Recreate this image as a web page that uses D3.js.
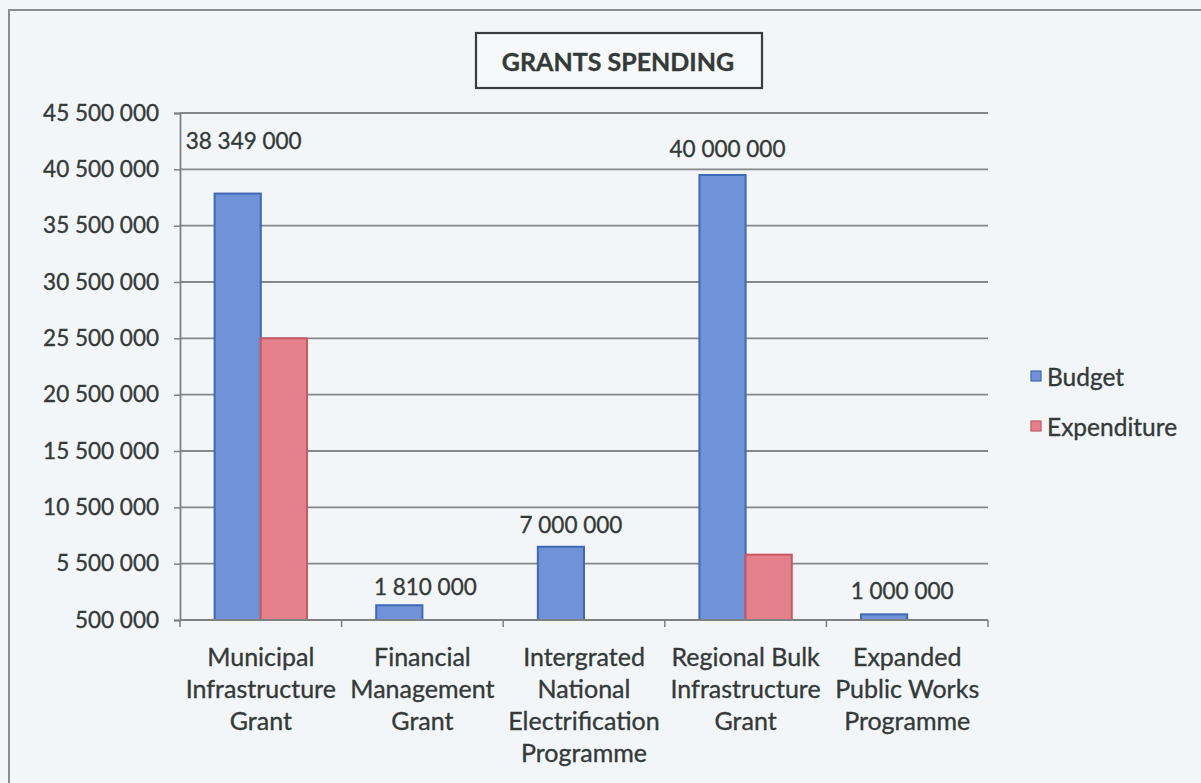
<!DOCTYPE html>
<html>
<head>
<meta charset="utf-8">
<script src="https://cdn.jsdelivr.net/npm/d3@7"></script>
<style>
  html, body { margin: 0; padding: 0; background: #f3f6f9; }
  svg { display: block; }
  text { font-family: Lato, "Open Sans", sans-serif; fill: #343a37; stroke: #343a37; stroke-width: 0.35px; }
</style>
</head>
<body>
<svg id="chart" width="1201" height="783"></svg>
<script>
// Grant names, one array of lines per category
const categories = [
  ["Municipal", "Infrastructure", "Grant"],
  ["Financial", "Management", "Grant"],
  ["Intergrated", "National", "Electrification", "Programme"],
  ["Regional Bulk", "Infrastructure", "Grant"],
  ["Expanded", "Public Works", "Programme"]
];
const budget      = [38349000, 1810000, 7000000, 40000000, 1000000];
const expenditure = [25500000, 0, 0, 6300000, 0];
const seriesNames = ["Budget", "Expenditure"];
const yTicks = [500000, 5500000, 10500000, 15500000, 20500000, 25500000,
                30500000, 35500000, 40500000, 45500000];

// Hand-placed nudges for the value labels above the budget bars
const labelNudge = [[6, -53], [26, -19], [10, -22], [5, -26], [18, -24]];

const colors = {
  Budget:      { fill: "#7093d7", stroke: "#3f68b5" },
  Expenditure: { fill: "#e4818b", stroke: "#c65964" }
};

const svg = d3.select("#chart");
const plot = { left: 180, right: 988, top: 113, bottom: 620 };

// outer frame
svg.append("path")
  .attr("d", "M9,783 V10 H1201")
  .attr("fill", "none").attr("stroke", "#8a8d8e").attr("stroke-width", 2);

const x0 = d3.scaleBand().domain(d3.range(categories.length))
  .range([plot.left, plot.right]).paddingInner(0).paddingOuter(0);
const barW = x0.bandwidth() / 3.5;
const x1 = d3.scaleBand().domain(seriesNames)
  .range([0, 2 * barW]);

const y = d3.scaleLinear().domain([500000, 45500000])
  .range([plot.bottom, plot.top]);

const fmt = v => d3.format(",")(v).replace(/,/g, " ");

// gridlines
svg.append("g").selectAll("line").data(yTicks.slice(1)).join("line")
  .attr("x1", plot.left).attr("x2", plot.right)
  .attr("y1", d => y(d)).attr("y2", d => y(d))
  .attr("stroke", "#858788").attr("stroke-width", 1.8);

// y axis
const yAxis = d3.axisLeft(y).tickValues(yTicks).tickFormat(fmt)
  .tickSize(6).tickPadding(15);
const gy = svg.append("g").attr("transform", `translate(${plot.left},0)`).call(yAxis);
gy.select(".domain").attr("stroke", "#7e8182").attr("stroke-width", 1.8);
gy.selectAll(".tick line").attr("stroke", "#7e8182").attr("stroke-width", 1.5);
gy.selectAll(".tick text").style("font-size", "22.5px").attr("fill", "#343a37")
  .style("font-family", "Lato, 'Open Sans', sans-serif");

// bars
const groups = svg.append("g").selectAll("g").data(categories.map((c, i) => i)).join("g")
  .attr("transform", i => `translate(${x0(i) + (x0.bandwidth() - 2 * barW) / 2},0)`);

groups.selectAll("rect")
  .data(i => [
    { s: "Budget", v: budget[i] },
    { s: "Expenditure", v: expenditure[i] }
  ].filter(d => d.v > y.domain()[0]))
  .join("rect")
  .attr("x", d => x1(d.s))
  .attr("width", x1.bandwidth())
  .attr("y", d => y(d.v))
  .attr("height", d => y(y.domain()[0]) - y(d.v))
  .attr("fill", d => colors[d.s].fill)
  .attr("stroke", d => colors[d.s].stroke)
  .attr("stroke-width", 2);

// x axis
const gx = svg.append("g");
gx.append("line").attr("x1", plot.left).attr("x2", plot.right)
  .attr("y1", plot.bottom).attr("y2", plot.bottom)
  .attr("stroke", "#7e8182").attr("stroke-width", 1.8);
gx.selectAll("line.tk").data(d3.range(categories.length + 1)).join("line")
  .attr("class", "tk")
  .attr("x1", i => plot.left + i * x0.bandwidth())
  .attr("x2", i => plot.left + i * x0.bandwidth())
  .attr("y1", plot.bottom).attr("y2", plot.bottom + 7)
  .attr("stroke", "#7e8182").attr("stroke-width", 1.5);

// category labels
const catText = svg.append("g").selectAll("text").data(categories).join("text")
  .attr("text-anchor", "middle")
  .style("font-size", "25px")
  .attr("transform", (d, i) => `translate(${x0(i) + x0.bandwidth() / 2},${plot.bottom + 46})`);
catText.selectAll("tspan").data(d => d).join("tspan")
  .attr("x", 0).attr("dy", (d, j) => j === 0 ? 0 : 32).text(d => d);

// value labels for the budget bars
svg.append("g").selectAll("text").data(budget).join("text")
  .attr("text-anchor", "middle")
  .attr("dominant-baseline", "central")
  .style("font-size", "22.5px")
  .attr("x", (d, i) => x0(i) + (x0.bandwidth() - 2 * barW) / 2 + x1("Budget") + barW / 2 + labelNudge[i][0])
  .attr("y", (d, i) => y(d) + labelNudge[i][1])
  .text(d => fmt(d));

// title box
const title = svg.append("g");
title.append("rect").attr("x", 476).attr("y", 33).attr("width", 286).attr("height", 55)
  .attr("fill", "#f6f8fa").attr("stroke", "#3a3d3c").attr("stroke-width", 2.2);
title.append("text").attr("x", 618).attr("y", 61)
  .attr("text-anchor", "middle").attr("dominant-baseline", "central")
  .style("font-size", "25px").style("font-weight", "bold")
  .text("GRANTS SPENDING");

// legend
const legend = svg.append("g").selectAll("g").data(seriesNames).join("g")
  .attr("transform", (d, i) => `translate(1031,${376 + i * 50})`);
legend.append("rect").attr("x", 0).attr("y", -5).attr("width", 10).attr("height", 10)
  .attr("fill", d => colors[d].fill).attr("stroke", d => colors[d].stroke).attr("stroke-width", 1.2);
legend.append("text").attr("x", 16).attr("y", 0)
  .attr("dominant-baseline", "central")
  .style("font-size", "24.5px")
  .text(d => d);
</script>
</body>
</html>
